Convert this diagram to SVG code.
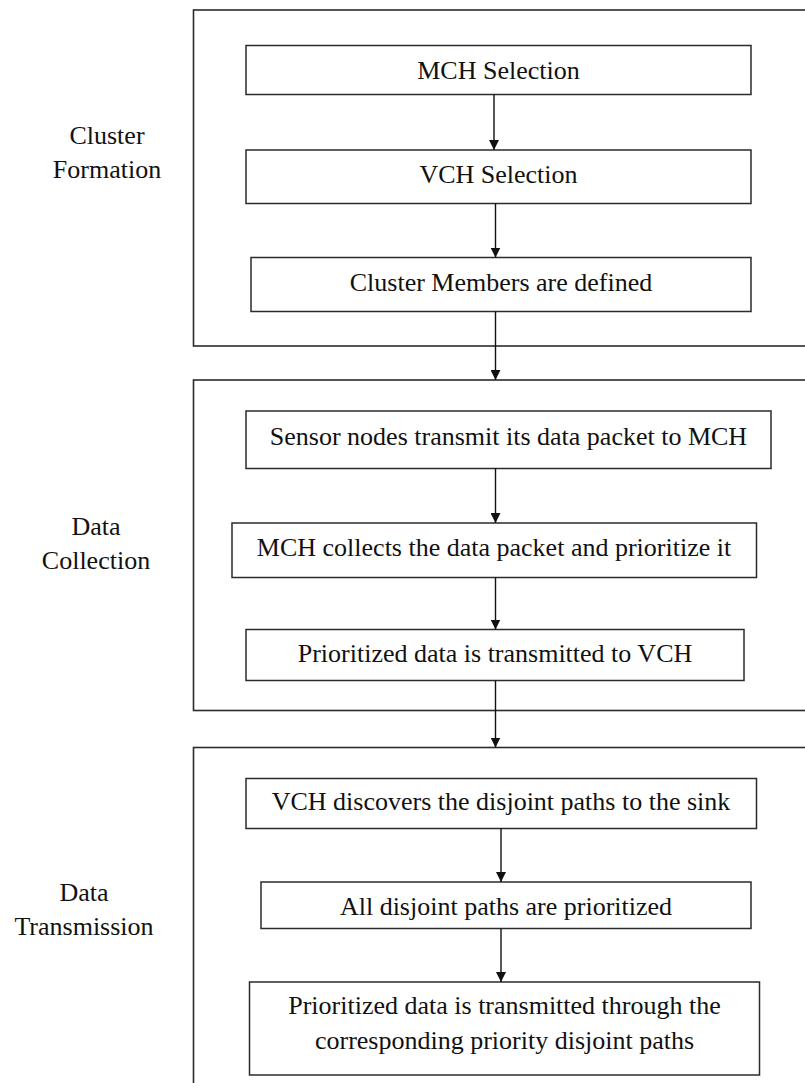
<svg xmlns="http://www.w3.org/2000/svg" width="805" height="1083" viewBox="0 0 805 1083">
  <style>
    .stage { fill: none; stroke: #2b2b2b; stroke-width: 1.6; }
    .box { fill: #ffffff; stroke: #2b2b2b; stroke-width: 1.5; }
    .t { font-family: "Liberation Serif", "Times New Roman", serif; font-size: 26px; fill: #111; text-anchor: middle; }
    .edge { stroke: #111; stroke-width: 1.4; fill: none; marker-end: url(#arrow); }
  </style>
  <defs>
    <marker id="arrow" markerWidth="10" markerHeight="10" refX="10" refY="5" orient="auto" markerUnits="userSpaceOnUse">
      <path d="M0,0 L10,5 L0,10 Z" fill="#111"/>
    </marker>
  </defs>
  <rect width="805" height="1083" fill="#ffffff"/>

  <!-- stage frames (open on the right / bottom) -->
  <g id="stage-cluster-formation">
    <rect class="stage" x="193.5" y="10" width="620" height="336"/>
    <text class="t" x="107" y="144">Cluster</text>
    <text class="t" x="107" y="177.5">Formation</text>
  </g>
  <g id="stage-data-collection">
    <rect class="stage" x="193.5" y="380" width="620" height="330.5"/>
    <text class="t" x="96" y="535">Data</text>
    <text class="t" x="96" y="569">Collection</text>
  </g>
  <g id="stage-data-transmission">
    <rect class="stage" x="193.5" y="747.5" width="620" height="400"/>
    <text class="t" x="84" y="900.5">Data</text>
    <text class="t" x="84" y="935">Transmission</text>
  </g>

  <!-- steps -->
  <g id="mch-selection">
    <rect class="box" x="246" y="45.5" width="505" height="49"/>
    <text class="t" x="498.5" y="78.5">MCH Selection</text>
  </g>
  <g id="vch-selection">
    <rect class="box" x="246" y="150" width="505" height="53.5"/>
    <text class="t" x="498.5" y="182.5">VCH Selection</text>
  </g>
  <g id="cluster-members">
    <rect class="box" x="251" y="257.5" width="500" height="54"/>
    <text class="t" x="501" y="290.5">Cluster Members are defined</text>
  </g>
  <g id="sensor-transmit">
    <rect class="box" x="246" y="411" width="525" height="57.5"/>
    <text class="t" x="508.5" y="444.5">Sensor nodes transmit its data packet to MCH</text>
  </g>
  <g id="mch-collects">
    <rect class="box" x="232" y="523" width="524.5" height="54.5"/>
    <text class="t" x="494" y="556">MCH collects the data packet and prioritize it</text>
  </g>
  <g id="to-vch">
    <rect class="box" x="246" y="629.5" width="498" height="51"/>
    <text class="t" x="495" y="661.5">Prioritized data is transmitted to VCH</text>
  </g>
  <g id="vch-discovers">
    <rect class="box" x="246" y="778.5" width="510.5" height="50"/>
    <text class="t" x="501" y="810">VCH discovers the disjoint paths to the sink</text>
  </g>
  <g id="paths-prioritized">
    <rect class="box" x="261" y="882" width="490" height="46.5"/>
    <text class="t" x="506" y="915">All disjoint paths are prioritized</text>
  </g>
  <g id="priority-transmission">
    <rect class="box" x="249.5" y="982" width="510" height="93"/>
    <text class="t" x="504.5" y="1014">Prioritized data is transmitted through the</text>
    <text class="t" x="504.5" y="1049">corresponding priority disjoint paths</text>
  </g>

  <!-- connectors -->
  <g id="connectors">
    <line class="edge" x1="494" y1="94.5" x2="494" y2="150"/>
    <line class="edge" x1="495.5" y1="203.5" x2="495.5" y2="257.5"/>
    <line class="edge" x1="495.5" y1="311.5" x2="495.5" y2="380"/>
    <line class="edge" x1="495.5" y1="468.5" x2="495.5" y2="523"/>
    <line class="edge" x1="495.5" y1="577.5" x2="495.5" y2="629.5"/>
    <line class="edge" x1="495.5" y1="680.5" x2="495.5" y2="747.5"/>
    <line class="edge" x1="501" y1="828.5" x2="501" y2="882"/>
    <line class="edge" x1="501" y1="928.5" x2="501" y2="982"/>
  </g>
</svg>
